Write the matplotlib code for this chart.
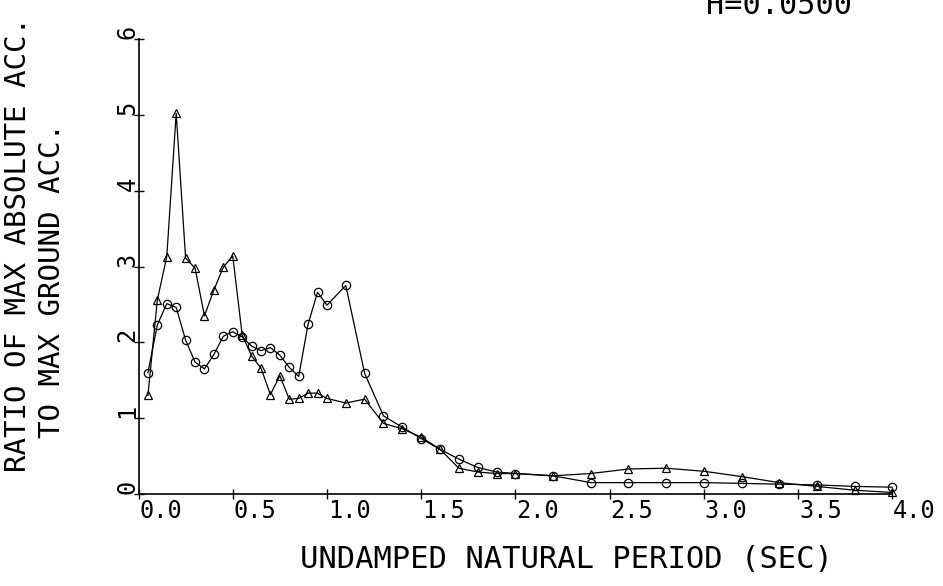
import matplotlib
matplotlib.use("Agg")
import matplotlib.pyplot as plt

period = [0.05, 0.10, 0.15, 0.20, 0.25, 0.30, 0.35, 0.40, 0.45, 0.50,
          0.55, 0.60, 0.65, 0.70, 0.75, 0.80, 0.85, 0.90, 0.95, 1.00,
          1.1, 1.2, 1.3, 1.4, 1.5, 1.6, 1.7, 1.8, 1.9, 2.0,
          2.2, 2.4, 2.6, 2.8, 3.0, 3.2, 3.4, 3.6, 3.8, 4.0]

ratio_triangle = [1.30, 2.56, 3.13, 5.02, 3.11, 2.98, 2.35, 2.69, 2.99, 3.14,
                  2.10, 1.82, 1.66, 1.31, 1.56, 1.25, 1.26, 1.33, 1.33, 1.26,
                  1.20, 1.25, 0.93, 0.86, 0.75, 0.59, 0.34, 0.29, 0.27, 0.27,
                  0.24, 0.27, 0.33, 0.34, 0.30, 0.23, 0.15, 0.10, 0.05, 0.02]

ratio_circle = [1.60, 2.23, 2.51, 2.46, 2.03, 1.74, 1.65, 1.84, 2.08, 2.14,
                2.07, 1.95, 1.89, 1.93, 1.83, 1.67, 1.55, 2.24, 2.66, 2.49,
                2.75, 1.59, 1.03, 0.88, 0.73, 0.59, 0.46, 0.35, 0.29, 0.27,
                0.24, 0.15, 0.15, 0.15, 0.15, 0.14, 0.13, 0.12, 0.10, 0.09]

x_ticks = [0.0, 0.5, 1.0, 1.5, 2.0, 2.5, 3.0, 3.5, 4.0]
x_tick_labels = ["0.0", "0.5", "1.0", "1.5", "2.0", "2.5", "3.0", "3.5", "4.0"]
y_ticks = [0, 1, 2, 3, 4, 5, 6]
y_tick_labels = ["0", "1", "2", "3", "4", "5", "6"]

title_text = "H=0.0500"
x_label = "UNDAMPED NATURAL PERIOD (SEC)"
y_label_1 = "RATIO OF MAX ABSOLUTE ACC."
y_label_2 = "TO MAX GROUND ACC."

FONT = "DejaVu Sans Mono"
W, H = 943, 586
fig = plt.figure(figsize=(W / 100, H / 100), dpi=100)
ax = fig.add_axes([138.5 / W, 92 / H, (892.3 - 138.5) / W, (494 - 39) / H])

ax.plot(period, ratio_triangle, color="black", lw=0.9, marker="^",
        markersize=6, markerfacecolor="none", markeredgewidth=0.9, clip_on=False)
ax.plot(period, ratio_circle, color="black", lw=0.9, marker="o",
        markersize=6, markerfacecolor="none", markeredgewidth=0.9, clip_on=False)

ax.set_xlim(0, 4.0)
ax.set_ylim(0, 6)
for s in ["top", "right"]:
    ax.spines[s].set_visible(False)
for s in ["left", "bottom"]:
    ax.spines[s].set_linewidth(1.2)
ax.set_xticks(x_ticks)
ax.set_yticks(y_ticks)
ax.set_xticklabels([])
ax.set_yticklabels([])
ax.tick_params(direction="inout", length=6.5, width=1.0, color="black")

# tick labels as text
for xv, lab in zip(x_ticks, x_tick_labels):
    ax.annotate(lab, xy=(xv, 0), xycoords="data", xytext=(1, -17),
                textcoords="offset pixels", ha="left", va="center",
                fontsize=17, family=FONT, annotation_clip=False)
for yv, lab in zip(y_ticks, y_tick_labels):
    ax.annotate(lab, xy=(0, yv), xycoords="data", xytext=(-11, 7),
                textcoords="offset pixels", ha="center", va="center",
                rotation=90, fontsize=17, family=FONT, annotation_clip=False)

fig.text(706 / W, 1 - 14 / H, title_text, ha="left", va="baseline",
         fontsize=21.8, family=FONT)
fig.text(566 / W, 1 - 559 / H, x_label, ha="center", va="center",
         fontsize=22, family=FONT)
fig.text(18 / W, 1 - 245 / H, y_label_1, ha="center", va="center",
         rotation=90, fontsize=21, family=FONT)
fig.text(52 / W, 1 - 280 / H, y_label_2, ha="center", va="center",
         rotation=90, fontsize=21, family=FONT)

fig.savefig("out.png", dpi=100, facecolor="white")
